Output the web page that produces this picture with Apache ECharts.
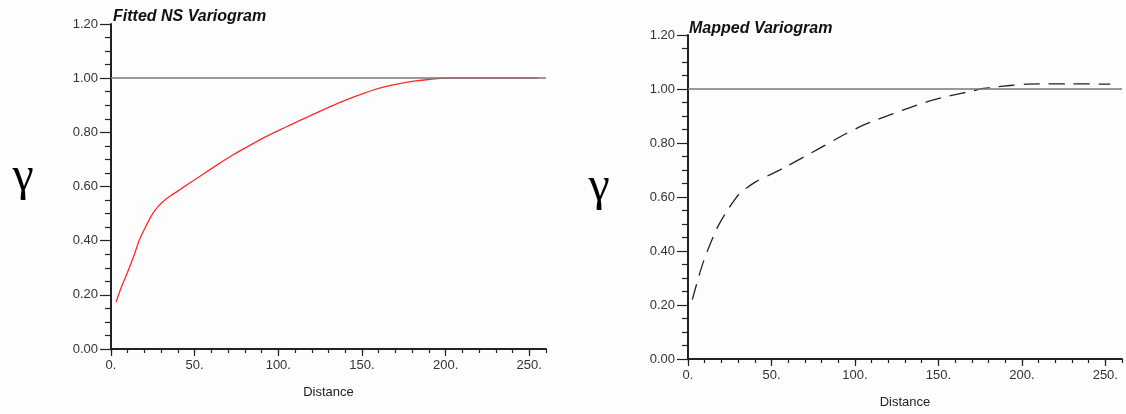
<!DOCTYPE html>
<html>
<head>
<meta charset="utf-8">
<script src="https://cdn.jsdelivr.net/npm/echarts@6/dist/echarts.min.js"></script>
<style>
  html, body { margin: 0; padding: 0; background: #fdfdfd; }
  #chart { width: 1126px; height: 414px; }
</style>
</head>
<body>
<div id="chart"></div>
<script>
// 坐标刻度
const distTicks = [0, 50, 100, 150, 200, 250]
const distMax = 260
const gammaTicks = [0, 0.2, 0.4, 0.6, 0.8, 1.0, 1.2]
const sill = 1.0

// 拟合的 NS 变差函数 (左)
const fittedDist = [3, 6, 10, 14, 17, 21, 25, 28, 31, 35, 42, 53, 63, 73, 83, 93, 103, 113, 121, 131, 141, 151, 161, 171, 181, 191, 201, 210, 230, 255]
const fittedGamma = [0.173, 0.225, 0.285, 0.350, 0.403, 0.455, 0.501, 0.525, 0.544, 0.563, 0.592, 0.637, 0.678, 0.717, 0.752, 0.785, 0.815, 0.844, 0.867, 0.895, 0.921, 0.944, 0.964, 0.978, 0.989, 0.996, 1.0, 1.0, 1.0, 1.0]

// 映射的变差函数 (右)
const mappedDist = [2.6, 9, 17, 23, 28, 31, 35, 41, 50, 59, 69, 79, 92, 105, 114, 123, 133, 143, 153, 163, 170, 177, 185, 193, 203, 215, 230, 253]
const mappedGamma = [0.22, 0.356, 0.479, 0.545, 0.59, 0.614, 0.633, 0.658, 0.685, 0.713, 0.747, 0.781, 0.826, 0.866, 0.888, 0.909, 0.931, 0.952, 0.969, 0.983, 0.992, 1.002, 1.008, 1.013, 1.018, 1.019, 1.019, 1.018]

const tickStep = distTicks[1] - distTicks[0]
const gammaStep = gammaTicks[1] - gammaTicks[0]
const labelFont = 'Liberation Sans, Arial, Helvetica, sans-serif'

const myChart = echarts.init(document.getElementById('chart'))

// 主刻度 x 轴
const majorX = (gridIndex) => ({
  type: 'value',
  gridIndex,
  min: distTicks[0],
  max: distMax,
  interval: tickStep,
  position: 'bottom',
  name: 'Distance',
  nameLocation: 'middle',
  nameGap: 37,
  nameTextStyle: { color: '#222', fontSize: 13, fontFamily: labelFont },
  splitLine: { show: false },
  axisLine: { show: true, onZero: false, lineStyle: { color: '#222', width: 2 } },
  axisTick: { show: true, length: 7, lineStyle: { color: '#222', width: 1.2 } },
  axisLabel: {
    margin: 10,
    showMaxLabel: false,
    color: '#333',
    fontSize: 13,
    fontFamily: labelFont,
    formatter: (v) => (distTicks.indexOf(v) >= 0 ? v + '.' : '')
  }
})
// 次刻度 x 轴 (每 10)
const minorX = (gridIndex) => ({
  type: 'value',
  gridIndex,
  min: distTicks[0],
  max: distMax,
  interval: tickStep / 5,
  position: 'bottom',
  splitLine: { show: false },
  axisLine: { show: false },
  axisTick: { show: true, length: 4, lineStyle: { color: '#222', width: 1.2 } },
  axisLabel: { show: false }
})
const gammaAxis = (gridIndex) => ({
  type: 'value',
  gridIndex,
  min: gammaTicks[0],
  max: gammaTicks[gammaTicks.length - 1],
  interval: gammaStep,
  splitLine: { show: false },
  axisLine: { show: true, onZero: false, lineStyle: { color: '#222', width: 2 } },
  axisTick: { show: true, length: 11, lineStyle: { color: '#222', width: 1.2 } },
  minorTick: { show: true, splitNumber: 4, length: 6, lineStyle: { color: '#222', width: 1.2 } },
  axisLabel: {
    margin: 13,
    color: '#333',
    fontSize: 13,
    fontFamily: labelFont,
    padding: [0, 0, 8, 0],
    formatter: (v) => v.toFixed(2)
  }
})
const sillLine = {
  silent: true,
  symbol: 'none',
  label: { show: false },
  lineStyle: { color: '#777', type: 'solid', width: 1.5 },
  data: [{ yAxis: sill }]
}

const option = {
  backgroundColor: '#fdfdfd',
  animation: false,
  title: [
    {
      text: 'Fitted NS Variogram',
      left: 108,
      top: 4,
      textStyle: { fontSize: 16, fontWeight: 'bold', fontStyle: 'italic', color: '#111', fontFamily: labelFont }
    },
    {
      text: 'Mapped Variogram',
      left: 684,
      top: 16,
      textStyle: { fontSize: 16, fontWeight: 'bold', fontStyle: 'italic', color: '#111', fontFamily: labelFont }
    }
  ],
  graphic: [
    {
      type: 'text',
      style: { text: 'γ', x: 23, y: 177, align: 'center', verticalAlign: 'middle', font: '48px "Liberation Serif", "Times New Roman", serif', fill: '#000' }
    },
    {
      type: 'text',
      style: { text: 'γ', x: 599, y: 187, align: 'center', verticalAlign: 'middle', font: '48px "Liberation Serif", "Times New Roman", serif', fill: '#000' }
    }
  ],
  grid: [
    { left: 111, top: 24, width: 435, height: 325 },
    { left: 688, top: 35, width: 434, height: 324 }
  ],
  xAxis: [majorX(0), minorX(0), majorX(1), minorX(1)],
  yAxis: [gammaAxis(0), gammaAxis(1)],
  series: [
    {
      type: 'line',
      xAxisIndex: 0,
      yAxisIndex: 0,
      data: fittedDist.map((d, i) => [d, fittedGamma[i]]),
      smooth: 0.3,
      showSymbol: false,
      lineStyle: { color: '#ff2a2a', width: 1.3 },
      markLine: sillLine,
      z: 3
    },
    {
      type: 'line',
      xAxisIndex: 2,
      yAxisIndex: 1,
      data: mappedDist.map((d, i) => [d, mappedGamma[i]]),
      smooth: 0.3,
      showSymbol: false,
      lineStyle: { color: '#222', width: 1.3, type: [16, 9] },
      markLine: sillLine,
      z: 3
    }
  ]
}
myChart.setOption(option)
</script>
</body>
</html>
